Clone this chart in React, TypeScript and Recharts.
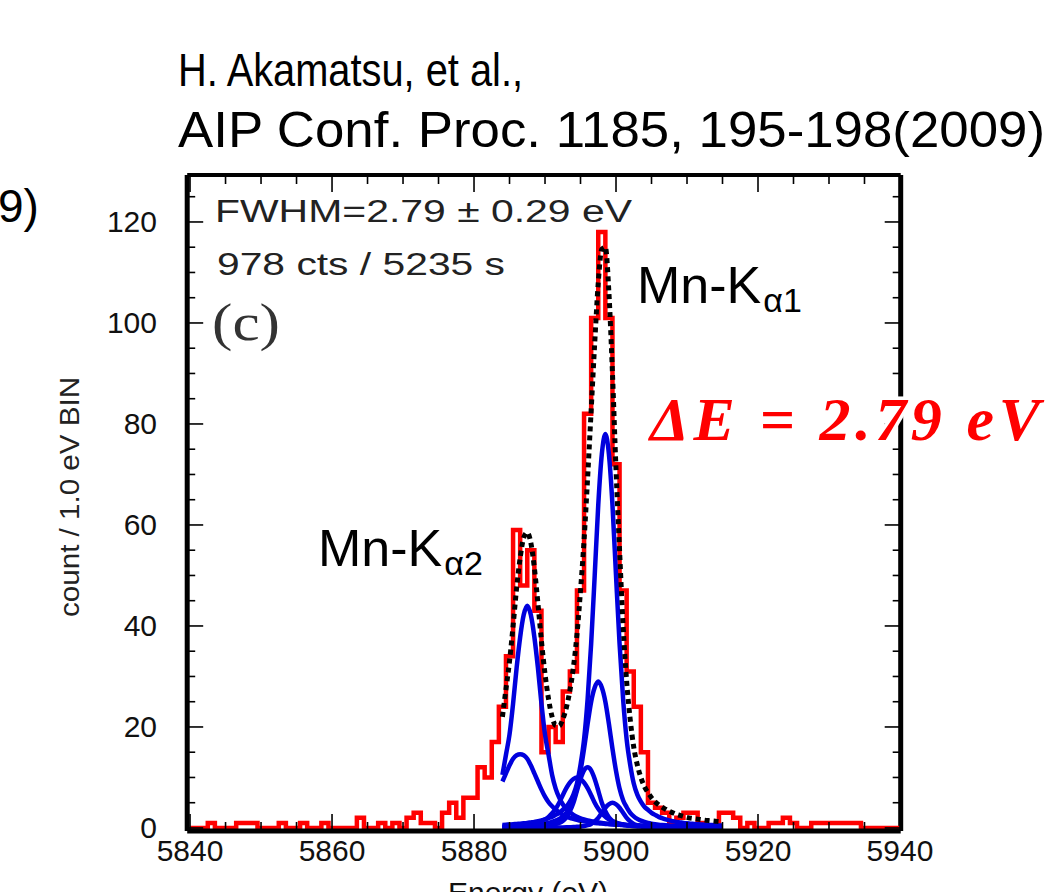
import React from 'react';
import { LineChart, Line, XAxis, YAxis, ReferenceLine } from 'recharts';

const W = 1054;
const H = 892;
const PLOT_TOP = 175;
const PLOT_BOTTOM = 831;
const PLOT_LEFT = 187.2;
const PLOT_RIGHT = 900.7;

// histogram: counts per 1 eV bin, bins centred on 5840 ... 5940
const binStart = 5840;
const binCounts = [
  0, 0, 0, 1, 0, 0, 0, 1, 1, 1,
  0, 0, 0, 1, 0, 0, 1, 0, 0, 1,
  0, 0, 0, 0, 2, 0, 0, 1, 0, 1,
  0, 2, 3, 1, 1, 0, 3, 5, 2, 6,
  6, 12, 10, 17, 24, 34, 59, 48, 55, 43,
  15, 20, 17, 27, 31, 47, 82, 101, 118, 101,
  72, 47, 31, 24, 15, 5, 4, 3, 1, 2,
  3, 3, 1, 0, 0, 3, 3, 2, 0, 1,
  0, 0, 1, 1, 2, 1, 0, 0, 1, 1,
  1, 1, 1, 1, 1, 0, 0, 0, 0, 0,
  0,
];

// fit curves, sampled every 0.5 eV
const fitEnergy = [
  5884, 5884.5, 5885, 5885.5, 5886, 5886.5, 5887, 5887.5, 5888, 5888.5,
  5889, 5889.5, 5890, 5890.5, 5891, 5891.5, 5892, 5892.5, 5893, 5893.5,
  5894, 5894.5, 5895, 5895.5, 5896, 5896.5, 5897, 5897.5, 5898, 5898.5,
  5899, 5899.5, 5900, 5900.5, 5901, 5901.5, 5902, 5902.5, 5903, 5903.5,
  5904, 5904.5, 5905, 5905.5, 5906, 5906.5, 5907, 5907.5, 5908, 5908.5,
  5909, 5909.5, 5910, 5910.5, 5911, 5911.5, 5912, 5912.5, 5913, 5913.5,
  5914, 5914.5, 5915,
];

const ka11 = [
  0.6, 0.65, 0.69, 0.74, 0.8, 0.85, 0.92, 1.0, 1.1, 1.2,
  1.35, 1.5, 1.7, 1.95, 2.2, 2.6, 3.0, 3.6, 4.2, 5.2,
  6.6, 8.8, 12.5, 17.5, 25.5, 36.5, 50, 64, 74, 78,
  74, 64, 50, 36.5, 25.5, 17.5, 12.5, 8.8, 6.6, 5.2,
  4.2, 3.6, 3.0, 2.6, 2.2, 1.95, 1.7, 1.5, 1.35, 1.2,
  1.1, 1.0, 0.92, 0.85, 0.8, 0.74, 0.69, 0.65, 0.6, 0.57,
  0.54, 0.5, 0.48,
];

const ka12 = [
  0.28, 0.3, 0.32, 0.34, 0.37, 0.4, 0.43, 0.47, 0.52, 0.58,
  0.65, 0.74, 0.85, 1.0, 1.2, 1.45, 1.8, 2.3, 3.0, 4.1,
  5.5, 7.8, 11.3, 15.7, 20.6, 25, 27.8, 29, 27.8, 25,
  20.6, 15.7, 11.3, 7.8, 5.5, 4.1, 3.0, 2.3, 1.8, 1.45,
  1.2, 1.0, 0.85, 0.74, 0.65, 0.58, 0.52, 0.47, 0.43, 0.4,
  0.37, 0.34, 0.32, 0.3, 0.28, 0.26, 0.25, 0.24, 0.22, 0.21,
  0.2, 0.19, 0.18,
];

const ka13 = [
  0.26, 0.28, 0.32, 0.35, 0.4, 0.45, 0.52, 0.6, 0.72, 0.85,
  1.05, 1.35, 1.7, 2.2, 2.9, 3.8, 5, 6.5, 7.9, 9,
  9.7, 10, 9.7, 9, 7.9, 6.5, 5, 3.8, 2.9, 2.2,
  1.7, 1.35, 1.05, 0.85, 0.72, 0.6, 0.52, 0.45, 0.4, 0.35,
  0.32, 0.28, 0.26, 0.24, 0.22, 0.2, 0.19, 0.18, 0.17, 0.16,
  0.15, 0.14, 0.135, 0.13, 0.125, 0.12, 0.115, 0.11, 0.105, 0.1,
  0.097, 0.094, 0.09,
];

const ka14 = [
  0.11, 0.12, 0.13, 0.14, 0.155, 0.17, 0.19, 0.21, 0.24, 0.27,
  0.31, 0.36, 0.42, 0.5, 0.6, 0.78, 1.0, 1.4, 2.1, 3.3,
  5, 7.4, 9.7, 11.4, 12, 11.4, 9.7, 7.4, 5, 3.3,
  2.1, 1.4, 1.0, 0.78, 0.6, 0.5, 0.42, 0.36, 0.31, 0.27,
  0.24, 0.21, 0.19, 0.17, 0.155, 0.14, 0.13, 0.12, 0.11, 0.1,
  0.095, 0.09, 0.085, 0.08, 0.076, 0.072, 0.068, 0.065, 0.062, 0.06,
  0.057, 0.055, 0.053,
];

const ka15 = [
  0.028, 0.029, 0.03, 0.032, 0.034, 0.036, 0.038, 0.04, 0.043, 0.046,
  0.05, 0.055, 0.06, 0.065, 0.07, 0.08, 0.09, 0.1, 0.12, 0.15,
  0.18, 0.23, 0.3, 0.4, 0.55, 0.8, 1.3, 2.0, 3.0, 4.0,
  4.7, 5, 4.7, 4.0, 3.0, 2.0, 1.3, 0.8, 0.55, 0.4,
  0.3, 0.23, 0.18, 0.15, 0.12, 0.1, 0.09, 0.08, 0.07, 0.065,
  0.06, 0.055, 0.05, 0.046, 0.043, 0.04, 0.038, 0.036, 0.034, 0.032,
  0.03, 0.029, 0.028,
];

const ka21 = [
  10.5, 14.5, 18.5, 24.6, 31.7, 37.8, 42.2, 44, 42.2, 37.8,
  31.7, 24.6, 18.5, 14.5, 10.5, 7.8, 6.0, 4.7, 3.8, 3.1,
  2.6, 2.2, 1.9, 1.68, 1.5, 1.35, 1.22, 1.1, 0.99, 0.9,
  0.83, 0.77, 0.71, 0.66, 0.62, 0.58, 0.55, 0.52, 0.49, 0.46,
  0.44, 0.42, 0.4, 0.38, 0.37, 0.35, 0.34, 0.33, 0.32, 0.31,
  0.3, 0.29, 0.28, 0.27, 0.26, 0.255, 0.25, 0.24, 0.235, 0.23,
  0.22, 0.215, 0.21,
];

const ka22 = [
  9.2, 10.8, 12.4, 13.7, 14.4, 14.6, 14.4, 13.7, 12.4, 10.8,
  9.2, 7.6, 6.2, 5.1, 4.3, 3.65, 3.1, 2.65, 2.3, 2.0,
  1.8, 1.62, 1.45, 1.32, 1.2, 1.1, 1.0, 0.93, 0.86, 0.8,
  0.75, 0.7, 0.66, 0.62, 0.58, 0.55, 0.52, 0.5, 0.47, 0.45,
  0.43, 0.41, 0.39, 0.38, 0.36, 0.35, 0.34, 0.32, 0.31, 0.3,
  0.29, 0.28, 0.27, 0.265, 0.26, 0.25, 0.245, 0.24, 0.23, 0.225,
  0.22, 0.215, 0.21,
];

const fitTotal = [
  22, 27.5, 33, 40, 47.5, 53.5, 57.5, 58.5, 56.5, 51.5,
  44.5, 37, 30.5, 25.5, 22, 20.3, 20.2, 21.5, 23.8, 27.2,
  31.8, 38.3, 47, 57, 69.3, 82.7, 96, 108, 114.6, 115,
  106, 90, 71, 55, 40, 29, 21.5, 16, 12.5, 10,
  8.2, 7, 6, 5.2, 4.6, 4.1, 3.7, 3.3, 3.0, 2.7,
  2.5, 2.3, 2.1, 1.95, 1.85, 1.75, 1.65, 1.55, 1.47, 1.4,
  1.33, 1.27, 1.2,
];

const xTicks = [
  5840, 5845, 5850, 5855, 5860, 5865, 5870, 5875, 5880, 5885, 5890,
  5895, 5900, 5905, 5910, 5915, 5920, 5925, 5930, 5935, 5940,
];
const xLabels = [5840, 5860, 5880, 5900, 5920, 5940];
const yTicks = [
  0, 5, 10, 15, 20, 25, 30, 35, 40, 45, 50, 55, 60,
  65, 70, 75, 80, 85, 90, 95, 100, 105, 110, 115, 120, 125,
];
const yLabels = [0, 20, 40, 60, 80, 100, 120];

const histData = binCounts.map((c, i) => ({ e: binStart + i, c }));
const comps = [ka11, ka12, ka13, ka14, ka15, ka21, ka22];
const compData = comps.map((vals) => fitEnergy.map((e, i) => ({ e, v: vals[i] })));
const totalData = fitEnergy.map((e, i) => ({ e, v: fitTotal[i] }));

const sans = '"Liberation Sans", Arial, Helvetica, sans-serif';
const serif = '"Liberation Serif", "Times New Roman", serif';

const BottomTick = (props: any) => {
  const { x, payload } = props;
  const v = payload.value;
  const major = xLabels.includes(v);
  const len = major ? 17 : 9;
  return (
    <g>
      <line x1={x} x2={x} y1={PLOT_BOTTOM} y2={PLOT_BOTTOM - len} stroke="#000" strokeWidth={1.6} />
      <line x1={x} x2={x} y1={PLOT_TOP} y2={PLOT_TOP + len} stroke="#000" strokeWidth={1.6} />
      {major && (
        <text x={x} y={861} textAnchor="middle" fontSize={30} fontFamily={sans} fill="#111">
          {v}
        </text>
      )}
    </g>
  );
};

const LeftTick = (props: any) => {
  const { y, payload } = props;
  const v = payload.value;
  const major = yLabels.includes(v);
  const len = major ? 16 : 8;
  return (
    <g>
      <line x1={PLOT_LEFT} x2={PLOT_LEFT + len} y1={y} y2={y} stroke="#000" strokeWidth={1.6} />
      <line x1={PLOT_RIGHT} x2={PLOT_RIGHT - len} y1={y} y2={y} stroke="#000" strokeWidth={1.6} />
      {major && (
        <text x={157} y={y + 10.5} textAnchor="end" fontSize={30} fontFamily={sans} fill="#111">
          {v}
        </text>
      )}
    </g>
  );
};

const Annotations = () => (
  <svg width={W} height={H} style={{ position: 'absolute', left: 0, top: 0, pointerEvents: 'none' }}>
    <text x={178} y={86} fontSize={46} fontFamily={sans} fill="#000" textLength={345} lengthAdjust="spacingAndGlyphs">
      H. Akamatsu, et al.,
    </text>
    <text x={178} y={147} fontSize={50} fontFamily={sans} fill="#000" textLength={867} lengthAdjust="spacingAndGlyphs">
      AIP Conf. Proc. 1185, 195-198(2009)
    </text>
    <text x={-2} y={222} fontSize={46} fontFamily={sans} fill="#000">9)</text>
    <text x={215} y={222} fontSize={31} fontFamily={sans} fill="#222" textLength={417} lengthAdjust="spacingAndGlyphs">
      FWHM=2.79 ± 0.29 eV
    </text>
    <text x={217} y={275} fontSize={31} fontFamily={sans} fill="#222" textLength={288} lengthAdjust="spacingAndGlyphs">
      978 cts / 5235 s
    </text>
    <text x={212} y={340} fontSize={52} fontFamily={serif} fill="#333" textLength={68} lengthAdjust="spacingAndGlyphs">
      (c)
    </text>
    <text x={637} y={303} fontSize={52} fontFamily={sans} fill="#000">
      Mn-K<tspan fontSize={34} dx={2} dy={9}>α1</tspan>
    </text>
    <text x={318} y={566} fontSize={52} fontFamily={sans} fill="#000">
      Mn-K<tspan fontSize={34} dx={2} dy={9}>α2</tspan>
    </text>
    <text
      x={650}
      y={440}
      fontSize={62}
      fontFamily={serif}
      fontStyle="italic"
      fontWeight="bold"
      fill="#ff0000"
      stroke="#fff"
      strokeWidth={7}
      paintOrder="stroke"
      textLength={390}
      lengthAdjust="spacing"
    >
      ΔE = 2.79 eV
    </text>
    <text
      x={0}
      y={0}
      transform="translate(79 497) rotate(-90)"
      textAnchor="middle"
      fontSize={27}
      fontFamily={sans}
      fill="#222"
      textLength={240}
      lengthAdjust="spacingAndGlyphs"
    >
      count / 1.0 eV BIN
    </text>
    <text x={528} y={903} textAnchor="middle" fontSize={30} fontFamily={sans} fill="#111">
      Energy (eV)
    </text>
  </svg>
);

export default function App() {
  return (
    <div style={{ position: 'absolute', left: 0, top: 0, width: W, height: H, background: '#fff' }}>
      <LineChart
        width={W}
        height={H}
        margin={{ top: PLOT_TOP, right: W - PLOT_RIGHT, bottom: H - PLOT_BOTTOM - 40, left: PLOT_LEFT - 60 }}
      >
        <XAxis
          dataKey="e"
          type="number"
          domain={[5839.6, 5940.1]}
          ticks={xTicks}
          interval={0}
          allowDataOverflow
          height={40}
          tickLine={false}
          axisLine={{ stroke: '#000', strokeWidth: 5 }}
          tick={(p: any) => <BottomTick {...p} />}
        />
        <YAxis
          type="number"
          domain={[-0.6, 129.3]}
          ticks={yTicks}
          interval={0}
          allowDataOverflow
          width={60}
          tickLine={false}
          axisLine={{ stroke: '#000', strokeWidth: 5 }}
          tick={(p: any) => <LeftTick {...p} />}
        />
        <ReferenceLine y={129.3} stroke="#000" strokeWidth={4} />
        <ReferenceLine x={5940.1} stroke="#000" strokeWidth={5} />
        <Line
          data={histData}
          dataKey="c"
          type="step"
          stroke="#ff0000"
          strokeWidth={4.5}
          dot={false}
          isAnimationActive={false}
        />
        {compData.map((d, i) => (
          <Line
            key={i}
            data={d}
            dataKey="v"
            type="monotone"
            stroke="#0000dd"
            strokeWidth={4.5}
            dot={false}
            isAnimationActive={false}
          />
        ))}
        <Line
          data={totalData}
          dataKey="v"
          type="monotone"
          stroke="#000"
          strokeWidth={5}
          strokeDasharray="5 4"
          dot={false}
          isAnimationActive={false}
        />
      </LineChart>
      <Annotations />
    </div>
  );
}
